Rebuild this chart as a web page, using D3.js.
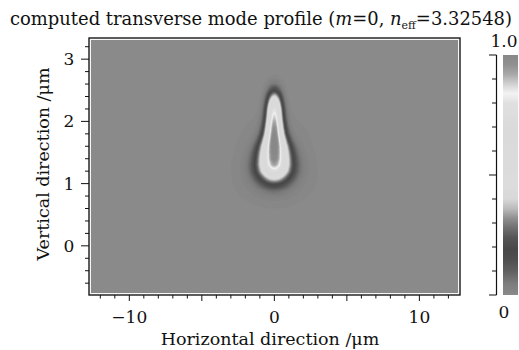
<!DOCTYPE html>
<html>
<head>
<meta charset="utf-8">
<script src="https://cdn.jsdelivr.net/npm/d3@7"></script>
<style>
  html, body { margin: 0; padding: 0; background: #fff; }
  svg { display: block; font-family: "DejaVu Serif", "Liberation Serif", serif; }
</style>
</head>
<body>
<svg width="519" height="350"></svg>
<script>
/* ===============================
   Data
   =============================== */
// rows of the mode field (vertical position, um)
const rowY      = [0.5, 0.6, 0.7, 0.8, 0.9, 1.0, 1.1, 1.2, 1.3, 1.4, 1.5, 1.6, 1.7, 1.8, 1.9, 2.0, 2.1, 2.2, 2.3, 2.4, 2.5, 2.6, 2.7, 2.8];
// normalized intensity on the centre line x = 0
const rowPeak   = [0, 0, 0, 0.01, 0.05, 0.18, 0.42, 0.72, 0.88, 0.95, 0.98, 1.0, 1.0, 0.98, 0.95, 0.91, 0.86, 0.78, 0.62, 0.40, 0.17, 0.05, 0.01, 0];
// horizontal gaussian half width of each row (um)
const rowWidth  = [0.70, 0.70, 0.70, 0.70, 0.72, 0.73, 0.74, 0.74, 0.73, 0.70, 0.66, 0.60, 0.52, 0.45, 0.41, 0.38, 0.36, 0.35, 0.34, 0.33, 0.33, 0.33, 0.33, 0.33];
// faint wide halo round the bulb
const rowHalo   = [0, 0.005, 0.01, 0.02, 0.03, 0.04, 0.045, 0.045, 0.045, 0.04, 0.035, 0.03, 0.025, 0.02, 0.015, 0.01, 0.006, 0.003, 0, 0, 0, 0, 0, 0];
const haloWidth = 1.4;

// colour bar (grey levels of the printed map)
const cmapValues = [0, 0.05, 0.10, 0.15, 0.19, 0.24, 0.28, 0.32, 0.36, 0.40, 0.45, 0.55, 0.70, 0.80, 0.84, 0.88, 0.92, 0.96, 1.0];
const cmapGrey   = [138, 124, 96, 78, 72, 86, 112, 144, 187, 216, 220, 219, 218, 224, 243, 208, 168, 144, 136];

const xTickLabels = [-10, 0, 10];
const yTickLabels = [0, 1, 2, 3];

/* ===============================
   Layout
   =============================== */
const svg = d3.select("svg");
const plotL = 89, plotR = 460, plotT = 38, plotB = 295;

const x = d3.scaleLinear().domain([-12.78, 12.8]).range([plotL, plotR]);
const y = d3.scaleLinear().domain([-0.79, 3.34]).range([plotB, plotT]);

const cmap = d3.scaleLinear()
    .domain(cmapValues)
    .range(cmapGrey.map(g => d3.rgb(g, g, g)))
    .clamp(true);

/* ===============================
   Heat map (filled contours)
   =============================== */
svg.append("clipPath").attr("id", "plotclip")
  .append("rect")
    .attr("x", plotL + 2).attr("y", plotT + 2)
    .attr("width", plotR - plotL - 4).attr("height", plotB - plotT - 4);

const plot = svg.append("g").attr("clip-path", "url(#plotclip)");

plot.append("rect")
    .attr("x", plotL).attr("y", plotT)
    .attr("width", plotR - plotL).attr("height", plotB - plotT)
    .attr("fill", cmap(0));

const x0 = -4, dx = 0.04;
const cols = d3.range(x0, 4 + dx / 2, dx);
const n = cols.length, m = rowY.length;
const grid = new Array(n * m);
for (let j = 0; j < m; j++) {
  for (let i = 0; i < n; i++) {
    const xv = cols[i];
    let v = rowPeak[j] * Math.exp(-xv * xv / (2 * rowWidth[j] * rowWidth[j]))
          + rowHalo[j] * Math.exp(-xv * xv / (2 * haloWidth * haloWidth));
    grid[j * n + i] = Math.min(v, 1);
  }
}

const dy = rowY[1] - rowY[0];
const toPixels = d3.geoTransform({
  point: function (px, py) {
    this.stream.point(x(x0 + (px - 0.5) * dx), y(rowY[0] + (py - 0.5) * dy));
  }
});
const path = d3.geoPath(toPixels);

const thresholds = d3.range(0.005, 1.0, 0.01);
const contours = d3.contours().size([n, m]).thresholds(thresholds)(grid);

plot.selectAll("path.band")
  .data(contours)
  .join("path")
    .attr("class", "band")
    .attr("d", path)
    .attr("fill", d => cmap(d.value + 0.005))
    .attr("stroke", d => cmap(d.value + 0.005))
    .attr("stroke-width", 0.3);

/* ===============================
   Frame
   =============================== */
svg.append("rect")
    .attr("x", plotL + 1).attr("y", plotT + 1)
    .attr("width", plotR - plotL - 2).attr("height", plotB - plotT - 2)
    .attr("fill", "none")
    .attr("stroke", "#f4f4f4")
    .attr("stroke-width", 1.5);

svg.append("rect")
    .attr("x", plotL).attr("y", plotT)
    .attr("width", plotR - plotL).attr("height", plotB - plotT)
    .attr("fill", "none")
    .attr("stroke", "#1a1a1a")
    .attr("stroke-width", 1.4);

/* ===============================
   Axes
   =============================== */
const ink = "#111";

// x ticks (outside, below)
const xTicks = d3.range(-12, 13, 1);
svg.append("g").selectAll("line")
  .data(xTicks)
  .join("line")
    .attr("x1", d => x(d)).attr("x2", d => x(d))
    .attr("y1", plotB).attr("y2", d => plotB + (d % 5 === 0 ? 6 : 3.5))
    .attr("stroke", ink).attr("stroke-width", 1);

svg.append("g").selectAll("text")
  .data(xTickLabels)
  .join("text")
    .attr("x", d => x(d)).attr("y", 323)
    .attr("text-anchor", "middle")
    .attr("font-size", 17)
    .attr("fill", ink)
    .text(d => d < 0 ? "\u2212" + Math.abs(d) : d);

svg.append("text")
    .attr("x", 270).attr("y", 345)
    .attr("text-anchor", "middle")
    .attr("font-size", 17.5)
    .attr("fill", ink)
    .text("Horizontal direction /\u03bcm");

// y ticks (outside, left)
const yTicks = d3.range(-0.6, 3.3, 0.2).map(d => Math.round(d * 10) / 10);
svg.append("g").selectAll("line")
  .data(yTicks)
  .join("line")
    .attr("x1", plotL).attr("x2", d => plotL - (Number.isInteger(d) ? 8 : 4))
    .attr("y1", d => y(d)).attr("y2", d => y(d))
    .attr("stroke", ink).attr("stroke-width", 1);

svg.append("g").selectAll("text")
  .data(yTickLabels)
  .join("text")
    .attr("x", 69).attr("y", d => y(d) + 6)
    .attr("text-anchor", "middle")
    .attr("font-size", 17)
    .attr("fill", ink)
    .text(d => d);

svg.append("text")
    .attr("transform", "translate(49,164) rotate(-90)")
    .attr("text-anchor", "middle")
    .attr("font-size", 17.5)
    .attr("fill", ink)
    .text("Vertical direction /\u03bcm");

/* ===============================
   Title
   =============================== */
const title = svg.append("text")
    .attr("x", 10).attr("y", 25)
    .attr("font-size", 18)
    .attr("fill", ink)
    .attr("textLength", 502)
    .attr("lengthAdjust", "spacingAndGlyphs");
title.append("tspan").text("computed transverse mode profile (");
title.append("tspan").attr("font-style", "italic").text("m");
title.append("tspan").text("=0, ");
title.append("tspan").attr("font-style", "italic").text("n");
title.append("tspan").attr("font-size", 11).attr("dy", 4).text("eff");
title.append("tspan").attr("dy", -4).text("=3.32548)");

/* ===============================
   Colour bar
   =============================== */
const cb = d3.scaleLinear().domain([0, 1]).range([295, 55]);

const grad = svg.append("defs").append("linearGradient")
    .attr("id", "cbgrad")
    .attr("x1", 0).attr("y1", 1).attr("x2", 0).attr("y2", 0);
grad.selectAll("stop")
  .data(d3.range(0, 1.0001, 0.01))
  .join("stop")
    .attr("offset", d => d)
    .attr("stop-color", d => cmap(d));

svg.append("rect")
    .attr("x", 503).attr("y", cb(1))
    .attr("width", 15).attr("height", cb(0) - cb(1))
    .attr("fill", "url(#cbgrad)");

svg.append("line")
    .attr("x1", 496.5).attr("x2", 496.5)
    .attr("y1", cb(0)).attr("y2", cb(1))
    .attr("stroke", ink).attr("stroke-width", 1.2);

svg.append("g").selectAll("line")
  .data(d3.range(0, 11).map(d => d / 10))
  .join("line")
    .attr("x1", 496.5)
    .attr("x2", d => (d === 0 || d === 1 || d === 0.5) ? 489 : 492)
    .attr("y1", d => cb(d)).attr("y2", d => cb(d))
    .attr("stroke", ink).attr("stroke-width", 1);

svg.append("text")
    .attr("x", 504).attr("y", 47)
    .attr("text-anchor", "middle")
    .attr("font-size", 17)
    .attr("fill", ink)
    .text("1.0");

svg.append("text")
    .attr("x", 504).attr("y", 318)
    .attr("text-anchor", "middle")
    .attr("font-size", 17)
    .attr("fill", ink)
    .text("0");
</script>
</body>
</html>
